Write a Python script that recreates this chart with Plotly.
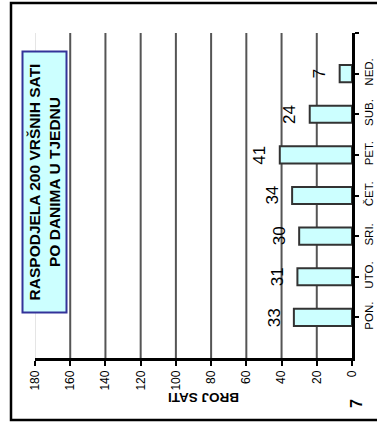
import plotly.graph_objects as go

days = ["PON.", "UTO.", "SRI.", "ČET.", "PET.", "SUB.", "NED."]
hours = [33, 31, 30, 34, 41, 24, 7]
value_ticks = [0, 20, 40, 60, 80, 100, 120, 140, 160, 180]
title_lines = ["RASPODJELA 200 VRŠNIH SATI", "PO DANIMA U TJEDNU"]
axis_title = "BROJ SATI"
page_no = "7"

FONT = "Liberation Sans, Arial, sans-serif"
W, H = 377, 424
L, R, T, B = 35, 25, 33, 66
PW, PH = W - L - R, H - T - B

def px(xp):
    return (xp - L) / PW

def py(yp):
    return 1 - (yp - T) / PH

idx = list(range(len(days)))

fig = go.Figure()
fig.add_trace(go.Bar(
    x=hours, y=idx, orientation="h", width=0.42,
    marker=dict(color="#CCFFFF", line=dict(color="#333333", width=2)),
    hoverinfo="skip",
))

# data labels
for i, v in zip(idx, hours):
    fig.add_annotation(x=v, y=i, xref="x", yref="y", text=str(v), showarrow=False,
                       textangle=-90, xshift=-20, xanchor="center", yanchor="middle",
                       font=dict(family=FONT, size=17, color="black"))

# grid lines (dark) for inner ticks, light one at max
for t in value_ticks[1:-1]:
    fig.add_shape(type="line", xref="x", yref="paper", x0=t, x1=t, y0=0, y1=1,
                  line=dict(color="#555555", width=2), layer="below")
fig.add_shape(type="line", xref="x", yref="paper", x0=value_ticks[-1], x1=value_ticks[-1],
              y0=0, y1=1, line=dict(color="#CCCCCC", width=1), layer="below")

# title box
fig.add_annotation(xref="paper", yref="paper", x=px(44), y=py(182.5),
                   text="<b>" + title_lines[0] + "<br>" + title_lines[1] + "</b>",
                   showarrow=False, textangle=-90, xanchor="center", yanchor="middle",
                   width=259, height=42, borderpad=0,
                   font=dict(family=FONT, size=15.5, color="black"),
                   bgcolor="#CCFFFF", bordercolor="#333399", borderwidth=2)

# axis title (upside down)
fig.add_annotation(xref="paper", yref="paper", x=px(204), y=py(398),
                   text="<b>" + axis_title + "</b>", showarrow=False, textangle=180,
                   xanchor="center", yanchor="middle",
                   font=dict(family=FONT, size=13.5, color="black"))

# page number
fig.add_annotation(xref="paper", yref="paper", x=px(356), y=py(404),
                   text="<b>" + page_no + "</b>", showarrow=False, textangle=-90,
                   xanchor="center", yanchor="middle",
                   font=dict(family=FONT, size=16, color="black"))

# outer frame
fig.add_shape(type="rect", xref="paper", yref="paper",
              x0=px(11), x1=px(400), y0=py(420), y1=py(3),
              line=dict(color="black", width=2.5), fillcolor="rgba(0,0,0,0)")

fig.update_layout(
    width=W, height=H,
    margin=dict(l=L, r=R, t=T, b=B, pad=0, autoexpand=False),
    paper_bgcolor="white", plot_bgcolor="white",
    showlegend=False,
    font=dict(family=FONT, color="black"),
    xaxis=dict(range=[value_ticks[-1], value_ticks[0]], tickvals=value_ticks,
               automargin=False, side="bottom", anchor="y",
               showgrid=False, zeroline=False, showline=True, linecolor="black", linewidth=2.5,
               ticks="outside", ticklen=5, tickwidth=2, tickcolor="black",
               tickangle=-90,
               tickfont=dict(family=FONT, size=12, color="black")),
    yaxis=dict(range=[-1, len(days)], tickvals=idx, ticktext=days, side="right",
               automargin=False,
               showgrid=False, zeroline=False, showline=True, linecolor="black", linewidth=2.5,
               ticks="outside", ticklen=4, tickwidth=2, tickcolor="black",
               tickangle=-90,
               tickfont=dict(family=FONT, size=11.5, color="black"),
               minor=dict(tickvals=[len(days)], ticks="outside", ticklen=4, tickwidth=2,
                          tickcolor="black", showgrid=False)),
)

fig.write_html("out.html", config={"displayModeBar": False},
               post_script="document.body.style.margin='0';document.body.style.overflow='hidden';")
